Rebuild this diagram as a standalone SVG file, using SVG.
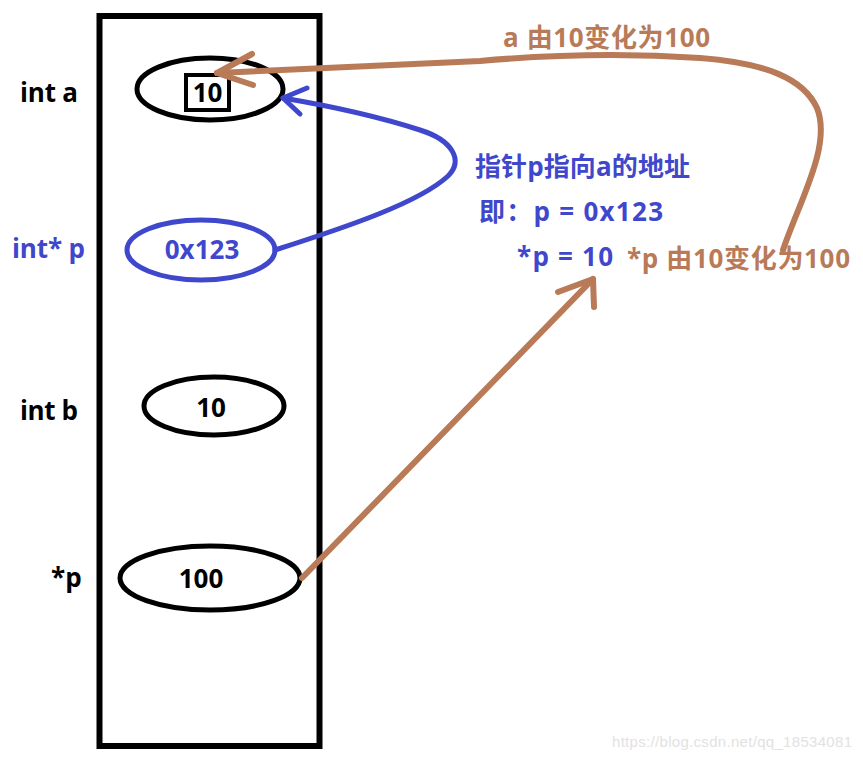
<svg xmlns="http://www.w3.org/2000/svg" width="863" height="757" viewBox="0 0 863 757">
<style>
.t{font-family:"Open Sans","Noto Sans CJK SC",sans-serif;font-weight:bold;font-size:26px}
.blk{fill:#000}
.blue{fill:#3F48CC}
.brown{fill:#B97A57}
.cell{fill:none;stroke:#000;stroke-width:5}
.bl{stroke:#3F48CC;stroke-width:5;fill:none;stroke-linecap:round;stroke-linejoin:round}
.br{stroke:#B97A57;stroke-width:6;fill:none;stroke-linecap:round;stroke-linejoin:round}
</style>
<rect width="863" height="757" fill="#fff"/>
<g id="memory">
<rect x="99.500" y="16" width="220" height="730" fill="none" stroke="#000" stroke-width="6"/>
</g>
<g id="label-a"><text class="t blk" x="20" y="102" textLength="58" lengthAdjust="spacing">int a</text></g>
<g id="label-p"><text class="t blue" x="12" y="258" textLength="73" lengthAdjust="spacing">int* p</text></g>
<g id="label-b"><text class="t blk" x="20" y="420" textLength="58" lengthAdjust="spacing">int b</text></g>
<g id="label-deref"><text class="t blk" x="51" y="587">*p</text></g>
<g id="node-a">
<ellipse class="cell" cx="210" cy="89" rx="73" ry="31"/>
<rect x="186" y="75" width="43" height="35" fill="#fff" stroke="#000" stroke-width="4"/>
<text class="t blk" x="207.500" y="102" text-anchor="middle">10</text>
</g>
<g id="node-p">
<ellipse cx="201" cy="250" rx="74" ry="30" fill="none" stroke="#3F48CC" stroke-width="5"/>
<text class="t blue" x="202" y="259" text-anchor="middle">0x123</text>
</g>
<g id="node-b">
<ellipse class="cell" cx="214" cy="406" rx="70" ry="29"/>
<text class="t blk" x="211" y="417" text-anchor="middle">10</text>
</g>
<g id="node-deref">
<ellipse class="cell" cx="210" cy="578" rx="90" ry="32"/>
<text class="t blk" x="201" y="588" text-anchor="middle">100</text>
</g>
<g id="connectors">
<path class="br" d="M 783 250 C 800 200, 832 145, 817 108 C 803 78, 765 63, 700 58 C 640 54, 570 53, 480 61 L 217 73"/>
<path class="br" d="M 252 54 L 217 73 L 253 85"/>
<path class="bl" d="M 275 250 C 350 226, 420 202, 448 176 C 464 160, 452 140, 420 130 C 380 117, 330 106, 283 98"/>
<path class="bl" d="M 307 88 L 283 98 L 300 114"/>
<path class="br" d="M 302 578 L 593 279"/>
<path class="br" d="M 558 292 L 593 279 L 594 307"/>
</g>
<g id="notes">
<text class="t brown" x="503" y="47" textLength="207" lengthAdjust="spacing">a 由10变化为100</text>
<text class="t blue" x="475" y="176" textLength="215" lengthAdjust="spacing">指针p指向a的地址</text>
<text class="t blue" x="479" y="221" textLength="184" lengthAdjust="spacing">即：p = 0x123</text>
<text class="t blue" x="517" y="266" textLength="96" lengthAdjust="spacing">*p = 10</text>
<text class="t brown" x="627" y="268" textLength="223" lengthAdjust="spacing">*p 由10变化为100</text>
</g>
<text x="612" y="747" font-family="'Liberation Sans',sans-serif" font-size="15" fill="#e2e2e2" textLength="240" lengthAdjust="spacing">https://blog.csdn.net/qq_18534081</text>
</svg>
